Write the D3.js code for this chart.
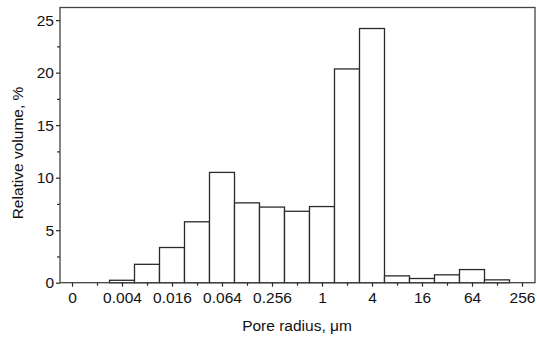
<!DOCTYPE html>
<html><head><meta charset="utf-8">
<script src="https://cdn.jsdelivr.net/npm/d3@7"></script>
<style>body{margin:0;background:#fff}svg{display:block}</style>
</head><body>
<svg id="c" width="537" height="338"></svg>
<script>
// Bin centers (pore radius, µm, log2 bins) and relative volume (%)
const binCenters = [0.004, 0.008, 0.016, 0.032, 0.064, 0.128, 0.256, 0.512, 1, 2, 4, 8, 16, 32, 64, 128];
const relVolume  = [0.23, 1.75, 3.35, 5.8, 10.5, 7.6, 7.2, 6.8, 7.25, 20.35, 24.2, 0.65, 0.4, 0.75, 1.25, 0.27];
// x tick positions (powers of 4, first one labelled "0") and labels
const xTickValues = [Math.pow(4,-5), Math.pow(4,-4), Math.pow(4,-3), Math.pow(4,-2), Math.pow(4,-1), 1, 4, 16, 64, 256];
const xTickLabels = ["0", "0.004", "0.016", "0.064", "0.256", "1", "4", "16", "64", "256"];
const yTickValues = [0, 5, 10, 15, 20, 25];

const svg = d3.select("#c");
const L = 60, R = 535, T = 7.5, B = 282.7;
// bars drawn at exact powers of 2 to match the reference's log spacing
const binExp = binCenters.map(v => Math.round(Math.log2(v)));

const x = d3.scaleLog().base(2).domain([Math.pow(2,-10.48), Math.pow(2,8.52)]).range([L, R]);
const y = d3.scaleLinear().domain([0, 26.2]).range([B, T]);

const stroke = "#2a2a2a";
const font = "'Liberation Sans', Arial, sans-serif";

// bars
svg.append("g").selectAll("rect").data(binExp).join("rect")
  .attr("x", (e) => x(Math.pow(2, e - 0.5)))
  .attr("width", (e) => x(Math.pow(2, e + 0.5)) - x(Math.pow(2, e - 0.5)))
  .attr("y", (e, i) => y(relVolume[i]))
  .attr("height", (e, i) => y(0) - y(relVolume[i]))
  .attr("fill", "#fff").attr("stroke", stroke).attr("stroke-width", 1.3);

// frame
svg.append("rect").attr("x", L).attr("y", T).attr("width", R - L).attr("height", B - T)
  .attr("fill", "none").attr("stroke", "#444").attr("stroke-width", 1.3);

// x axis
const xMinor = xTickValues.slice(0, -1).map(v => v * 2);
const xAxis = d3.axisBottom(x).tickValues(xTickValues).tickSize(4).tickPadding(5.5)
  .tickFormat((d, i) => xTickLabels[i]);
const gx = svg.append("g").attr("transform", `translate(0,${B})`).call(xAxis);
gx.select(".domain").remove();
gx.selectAll(".tick line").attr("stroke", stroke).attr("stroke-width", 1.2);
gx.selectAll(".tick text").attr("font-family", font).attr("font-size", 15.5).attr("fill", "#111");
const gxm = svg.append("g").attr("transform", `translate(0,${B})`)
  .call(d3.axisBottom(x).tickValues(xMinor).tickSize(3).tickFormat(""));
gxm.select(".domain").remove();
gxm.selectAll(".tick line").attr("stroke", stroke).attr("stroke-width", 1.2);

// y axis
const gy = svg.append("g").attr("transform", `translate(${L},0)`)
  .call(d3.axisLeft(y).tickValues(yTickValues).tickSize(4).tickPadding(2));
gy.select(".domain").remove();
gy.selectAll(".tick line").attr("stroke", stroke).attr("stroke-width", 1.2);
gy.selectAll(".tick text").attr("font-family", font).attr("font-size", 15.5).attr("fill", "#111");
const gym = svg.append("g").attr("transform", `translate(${L},0)`)
  .call(d3.axisLeft(y).tickValues([2.5, 7.5, 12.5, 17.5, 22.5]).tickSize(3).tickFormat(""));
gym.select(".domain").remove();
gym.selectAll(".tick line").attr("stroke", stroke).attr("stroke-width", 1.2);

// titles
svg.append("text").attr("x", 297).attr("y", 331).attr("text-anchor", "middle")
  .attr("font-family", font).attr("font-size", 15.5).attr("fill", "#111").text("Pore radius, \u03bcm");
svg.append("text").attr("transform", "translate(23,153) rotate(-90)").attr("text-anchor", "middle")
  .attr("font-family", font).attr("font-size", 15.5).attr("fill", "#111").text("Relative volume, %");
</script>
</body></html>
